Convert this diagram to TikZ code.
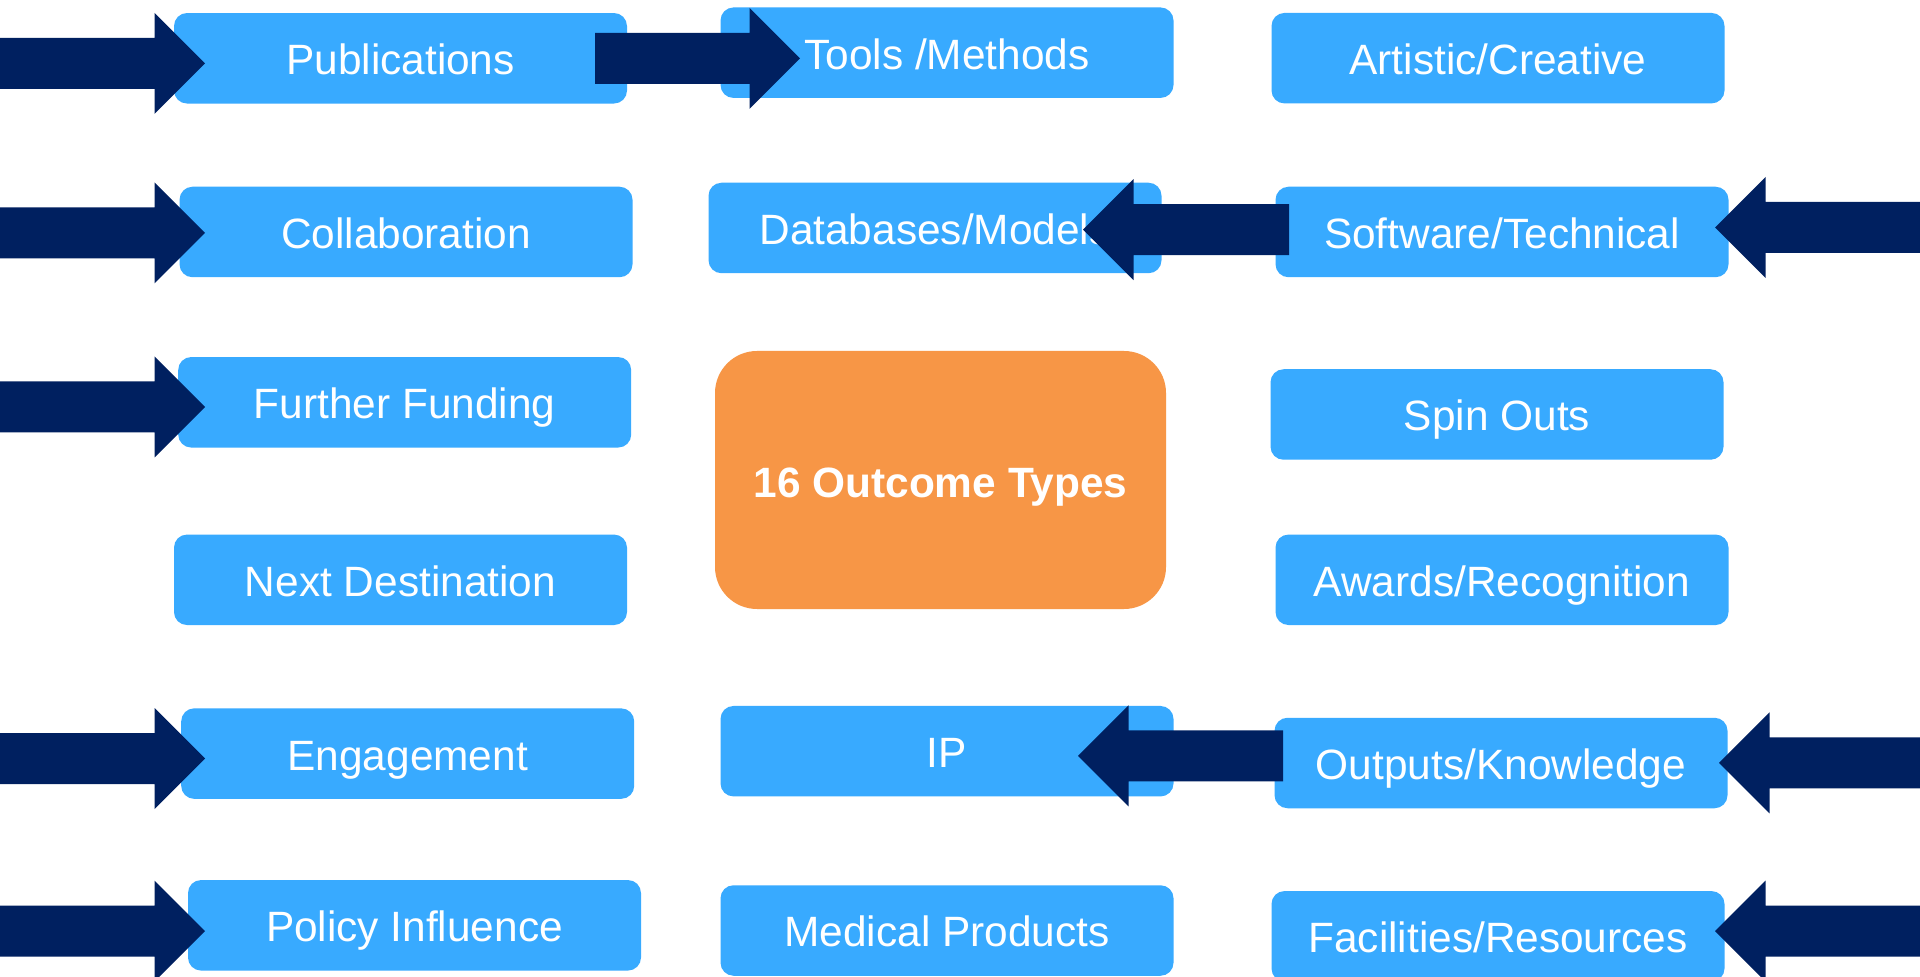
\documentclass[tikz,border=0pt]{standalone}
\usepackage{fontspec}
\setmainfont{Liberation Sans}
\definecolor{boxblue}{HTML}{38AAFF}
\definecolor{navy}{HTML}{002060}
\definecolor{orng}{HTML}{F79646}
\tikzset{
  ob/.style={fill=boxblue, rounded corners=6.5pt, minimum width=226.5pt,
    minimum height=45.25pt, text=white, inner sep=0pt,
    font=\fontsize{21.2}{25}\selectfont, text height=16.4pt, text depth=0pt},
  core/.style={fill=orng, rounded corners=21pt, minimum width=225.5pt,
    minimum height=129pt, text=white, inner sep=0pt,
    font=\fontsize{21.2}{25}\selectfont\bfseries, text height=17.6pt, text depth=0pt},
  blockarrow/.style={fill=navy}
}
% #1 start x, #2 tip x, #3 centre y (pixel units)
\newcommand\blk[3]{%
  \pgfmathsetmacro\xb{#2-50.5*sign(#2-#1)}%
  \fill[blockarrow] (#1,#3-25.5) -- (\xb,#3-25.5) -- (\xb,#3-50.5) -- (#2,#3)
    -- (\xb,#3+50.5) -- (\xb,#3+25.5) -- (#1,#3+25.5) -- cycle;}
\begin{document}
\begin{tikzpicture}[x=0.5pt,y=-0.5pt]
\clip (0,0) rectangle (1920,977);
\fill[white] (0,0) rectangle (1920,977);

\node[ob] (pub)     at (400.5,58.3)  {Publications};
\node[ob] (tools)   at (947,52.7)    {Tools /Methods};
\node[ob] (art)     at (1498,58.2)   {Artistic/Creative};
\node[ob] (collab)  at (406,232)     {Collaboration};
\node[ob] (db)      at (935,228)     {Databases/Models};
\node[ob] (soft)    at (1502,232)    {Software/Technical};
\node[ob] (fund)    at (404.7,402.3) {Further Funding};
\node[core] (core)  at (940.5,480)   {16 Outcome Types};
\node[ob] (spin)    at (1497,414.5)  {Spin Outs};
\node[ob] (next)    at (400.5,579.8) {Next Destination};
\node[ob] (awards)  at (1502,579.8)  {Awards/Recognition};
\node[ob] (engage)  at (407.7,753.6) {Engagement};
\node[ob] (ip)      at (947,751.2)   {IP};
\node[ob] (outputs) at (1501,763)    {Outputs/Knowledge};
\node[ob] (policy)  at (414.5,925.3) {Policy Influence};
\node[ob] (medical) at (947,930.5)   {Medical Products};
\node[ob] (facil)   at (1498,936.3)  {Facilities/Resources};

% block arrows
\blk{0}{205}{63.5}
\blk{595}{800}{58.3}
\blk{0}{205}{233}
\blk{1289}{1083}{229.7}
\blk{1920}{1715}{227.5}
\blk{0}{205}{407}
\blk{0}{205}{758.5}
\blk{1283}{1078}{755.8}
\blk{1920}{1719}{762.8}
\blk{0}{205}{931.2}
\blk{1920}{1715}{931.2}
\end{tikzpicture}
\end{document}
